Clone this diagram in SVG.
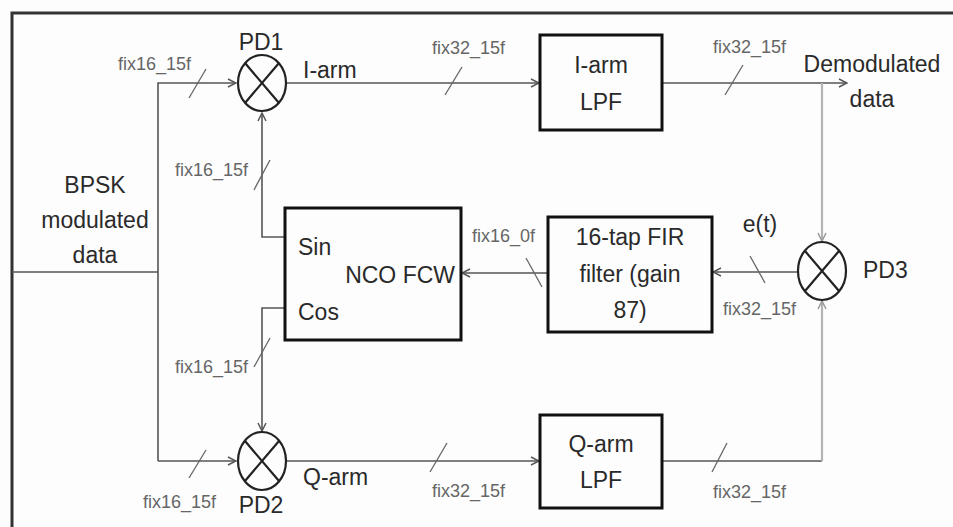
<svg xmlns="http://www.w3.org/2000/svg" width="953" height="527" viewBox="0 0 953 527">
<defs>
<marker id="arr" viewBox="0 0 10 10" refX="9" refY="5" markerWidth="10" markerHeight="10" markerUnits="userSpaceOnUse" orient="auto">
<path d="M1,1 L9,5 L1,9" fill="none" stroke="#555" stroke-width="1.5"/>
</marker>
<marker id="arrL" viewBox="0 0 10 10" refX="9" refY="5" markerWidth="10" markerHeight="10" markerUnits="userSpaceOnUse" orient="auto">
<path d="M1,1 L9,5 L1,9" fill="none" stroke="#999" stroke-width="1.5"/>
</marker>
</defs>
<style>
.box{fill:none;stroke:#111;stroke-width:3}
.mix{fill:none;stroke:#222;stroke-width:2.2}
.w{fill:none;stroke:#555;stroke-width:1.6}
.wl{fill:none;stroke:#b3b3b3;stroke-width:2.2}
.tk{fill:none;stroke:#666;stroke-width:1.3}
.t{font-family:"Liberation Sans",Arial,sans-serif;font-size:23px;fill:#2a2a2a}
.s{font-family:"Liberation Sans",Arial,sans-serif;font-size:18px;fill:#666}
.m{text-anchor:middle}
</style>
<rect x="0" y="0" width="953" height="527" fill="#fdfdfd"/>
<path d="M12,527 V13 H953" fill="none" stroke="#333" stroke-width="3"/>

<g id="connectors">
<path class="w" d="M12,272 H158"/>
<path class="w" d="M158,461 V83 H236" marker-end="url(#arr)"/>
<path class="w" d="M158,461 H236" marker-end="url(#arr)"/>
<path class="w" d="M286,83 H539" marker-end="url(#arr)"/>
<path class="w" d="M662,83 H847" marker-end="url(#arr)"/>
<path class="wl" d="M822,83 V241" marker-end="url(#arrL)"/>
<path class="w" d="M285,237 H262 V113" marker-end="url(#arr)"/>
<path class="w" d="M285,308 H262 V431" marker-end="url(#arr)"/>
<path class="w" d="M286,461 H539" marker-end="url(#arr)"/>
<path class="w" d="M662,461 H822"/>
<path class="wl" d="M822,461 V301" marker-end="url(#arrL)"/>
<path class="w" d="M798,272 H713" marker-end="url(#arr)"/>
<path class="w" d="M548,273 H462" marker-end="url(#arr)"/>
<!-- bus ticks -->
<path class="tk" d="M189,98 L206,69"/>
<path class="tk" d="M445,95 L462,67"/>
<path class="tk" d="M725,95 L743,65"/>
<path class="tk" d="M254,190 L270,160"/>
<path class="tk" d="M254,367 L270,338"/>
<path class="tk" d="M189,478 L206,450"/>
<path class="tk" d="M430,472 L447,443"/>
<path class="tk" d="M712,472 L727,443"/>
<path class="tk" d="M750,256 L765,283"/>
<path class="tk" d="M526,258 L542,287"/>
<text class="s" x="118" y="70">fix16_15f</text>
<text class="s" x="432" y="54">fix32_15f</text>
<text class="s" x="713" y="53">fix32_15f</text>
<text class="s" x="175" y="176">fix16_15f</text>
<text class="s" x="175" y="373">fix16_15f</text>
<text class="s" x="143" y="508">fix16_15f</text>
<text class="s" x="432" y="497">fix32_15f</text>
<text class="s" x="713" y="498">fix32_15f</text>
<text class="s" x="723" y="315">fix32_15f</text>
<text class="s" x="472" y="242">fix16_0f</text>
<text class="t" x="760" y="232" text-anchor="middle">e(t)</text>
<text class="t" x="303" y="78">I-arm</text>
<text class="t" x="303" y="485">Q-arm</text>
</g>

<g id="input">
<text class="t m" x="95" y="193">BPSK</text>
<text class="t m" x="95" y="228">modulated</text>
<text class="t m" x="95" y="263">data</text>
</g>

<g id="output">
<text class="t m" x="872" y="72">Demodulated</text>
<text class="t m" x="872" y="107">data</text>
</g>

<g id="pd1">
<ellipse class="mix" cx="262" cy="83" rx="24" ry="28"/>
<path class="mix" d="M245,63 L279,103 M279,63 L245,103"/>
<text class="t m" x="261" y="50">PD1</text>
</g>

<g id="pd2">
<ellipse class="mix" cx="262" cy="461" rx="24" ry="29"/>
<path class="mix" d="M245,441 L279,481 M279,441 L245,481"/>
<text class="t m" x="261" y="513">PD2</text>
</g>

<g id="pd3">
<ellipse class="mix" cx="822" cy="271" rx="24" ry="29"/>
<path class="mix" d="M805,251 L839,291 M839,251 L805,291"/>
<text class="t" x="863" y="278">PD3</text>
</g>

<g id="iarm-lpf">
<rect class="box" x="540" y="35" width="122" height="95"/>
<text class="t m" x="601" y="73">I-arm</text>
<text class="t m" x="601" y="110">LPF</text>
</g>

<g id="qarm-lpf">
<rect class="box" x="540" y="415" width="122" height="93"/>
<text class="t m" x="601" y="452">Q-arm</text>
<text class="t m" x="601" y="488">LPF</text>
</g>

<g id="fir">
<rect class="box" x="548" y="217" width="164" height="115"/>
<text class="t m" x="630" y="245">16-tap FIR</text>
<text class="t m" x="630" y="282">filter (gain</text>
<text class="t m" x="630" y="318">87)</text>
</g>

<g id="nco">
<rect class="box" x="285" y="208" width="176" height="132"/>
<text class="t" x="298" y="255">Sin</text>
<text class="t" x="298" y="320">Cos</text>
<text class="t" x="455" y="283" text-anchor="end">NCO FCW</text>
</g>
</svg>
